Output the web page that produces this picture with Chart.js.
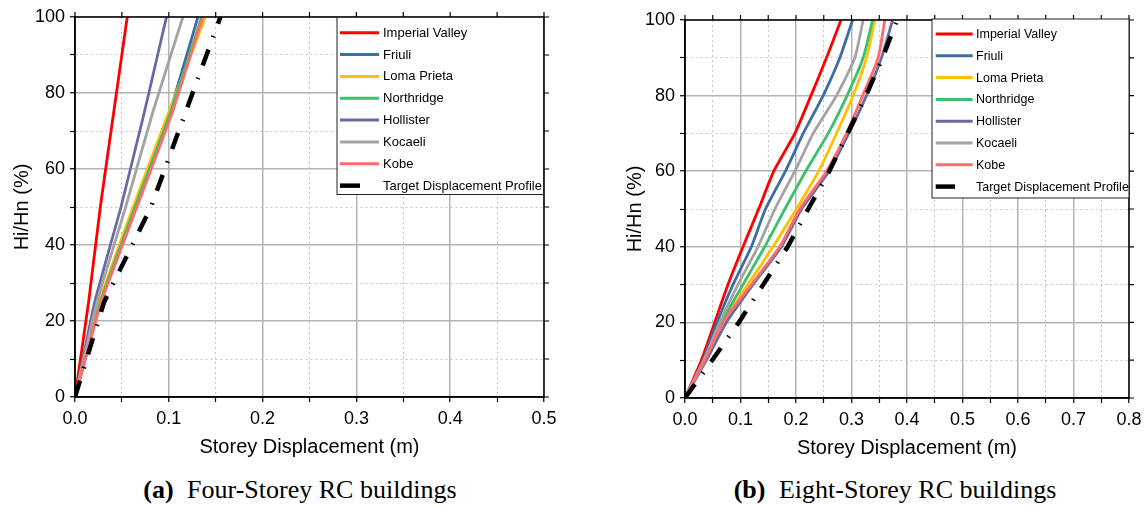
<!DOCTYPE html>
<html lang="en">
<head>
<meta charset="UTF-8">
<title>Storey displacement profiles</title>
<style>
  body { margin: 0; background: #fff; width: 1148px; height: 507px; position: relative; overflow: hidden; }
  canvas { position: absolute; top: 0; }
  #chartA { left: 0; }
  #chartB { left: 600px; }
  .caption {
    position: absolute; top: 475px; line-height: 30px;
    font-family: "Liberation Serif", "Times New Roman", serif; font-size: 26px; color: #000;
    white-space: nowrap; transform: translateX(-50%);
  }
  .caption b { margin-right: 7px; }
</style>
</head>
<body>
<canvas id="chartA" width="574" height="459"></canvas>
<canvas id="chartB" width="548" height="460"></canvas>
<div class="caption" style="left:300px"><b>(a)</b> Four-Storey RC buildings</div>
<div class="caption" style="left:895px"><b>(b)</b> Eight-Storey RC buildings</div>

<script src="https://cdn.jsdelivr.net/npm/chart.js"></script>
<script>
const seriesNames = ['Imperial Valley', 'Friuli', 'Loma Prieta', 'Northridge', 'Hollister', 'Kocaeli', 'Kobe', 'Target Displacement Profile'];

// (a) four-storey: Hi/Hn (%) at floor levels and storey displacement (m)
const heightsA    = [0, 25, 50, 75, 100];
const imperialA   = [0, 0.0145, 0.027, 0.0413, 0.0557];
const friuliA     = [0, 0.027, 0.063, 0.101, 0.131];
const lomaA       = [0, 0.026, 0.062, 0.100, 0.139];
const northridgeA = [0, 0.027, 0.064, 0.102, 0.135];
const hollisterA  = [0, 0.021, 0.049, 0.074, 0.0975];
const kocaeliA    = [0, 0.0234, 0.054, 0.083, 0.115];
const kobeA       = [0, 0.028, 0.066, 0.104, 0.136];
const targetA     = [0, 0.031, 0.081, 0.118, 0.155];

// (b) eight-storey: Hi/Hn (%) read every 10 % and storey displacement (m)
const heightsB    = [0, 10, 20, 30, 40, 50, 60, 70, 80, 90, 100];
const imperialB   = [0, 0.0295, 0.0535, 0.0775, 0.1045, 0.1328, 0.160, 0.198, 0.227, 0.255, 0.281];
const friuliB     = [0, 0.0324, 0.0577, 0.0865, 0.1196, 0.145, 0.181, 0.213, 0.249, 0.279, 0.302];
const lomaB       = [0, 0.036, 0.0685, 0.1135, 0.1586, 0.2007, 0.241, 0.273, 0.303, 0.327, 0.342];
const northridgeB = [0, 0.034, 0.0655, 0.1045, 0.1436, 0.180, 0.2175, 0.258, 0.292, 0.321, 0.338];
const hollisterB  = [0, 0.0385, 0.0745, 0.1225, 0.1737, 0.210, 0.2595, 0.295, 0.327, 0.354, 0.374];
const kocaeliB    = [0, 0.034, 0.0625, 0.0955, 0.1315, 0.162, 0.198, 0.231, 0.273, 0.306, 0.321];
const kobeB       = [0, 0.036, 0.0685, 0.1196, 0.1706, 0.2067, 0.255, 0.291, 0.320, 0.348, 0.360];
const targetB     = [0, 0.049, 0.097, 0.141, 0.185, 0.222, 0.260, 0.293, 0.326, 0.356, 0.382];

const colors = ['#ff0000', '#3a6ea5', '#ffc000', '#3dbf6e', '#6a6aa2', '#a3a3a3', '#ff6b6b', '#000000'];
const sans = '"Liberation Sans", Arial, sans-serif';

const isMajor = (v, step) => Math.abs(Math.round(v / step) * step - v) < 1e-9;

function buildDatasets(series, heights, tension) {
    return series.map((xs, i) => {
        const target = i === series.length - 1;
        return {
            label: seriesNames[i],
            data: xs.map((x, k) => ({ x: x, y: heights[k] })),
            borderColor: colors[i],
            borderWidth: target ? 4.5 : 2.8,
            borderDash: target ? [17, 13, 1.5, 13] : [],
            tension: target ? 0 : tension,
            pointRadius: 0,
            order: -i
        };
    });
}

// black frame with outward ticks on top/right, like the bottom/left axes
const framePlugin = {
    id: 'frame',
    afterDatasetsDraw(chart) {
        const { ctx, chartArea: a, scales } = chart;
        ctx.save();
        ctx.strokeStyle = '#000';
        ctx.lineWidth = 1.5;
        ctx.strokeRect(a.left, a.top, a.right - a.left, a.bottom - a.top);
        ctx.lineWidth = 1.2;
        ctx.beginPath();
        scales.x.ticks.forEach(t => {
            const px = scales.x.getPixelForValue(t.value);
            ctx.moveTo(px, a.top); ctx.lineTo(px, a.top - 5);
        });
        scales.y.ticks.forEach(t => {
            const py = scales.y.getPixelForValue(t.value);
            ctx.moveTo(a.right, py); ctx.lineTo(a.right + 5, py);
        });
        ctx.stroke();
        ctx.restore();
    }
};

const boxLegendPlugin = {
    id: 'boxLegend',
    afterDraw(chart, args, o) {
        const ctx = chart.ctx;
        ctx.save();
        ctx.fillStyle = '#fff';
        ctx.fillRect(o.left, o.top, o.right - o.left, o.bottom - o.top);
        ctx.strokeStyle = '#222';
        ctx.lineWidth = 1;
        ctx.strokeRect(o.left, o.top, o.right - o.left, o.bottom - o.top);
        ctx.font = o.font + 'px ' + sans;
        ctx.textBaseline = 'middle';
        chart.data.datasets.forEach((ds, i) => {
            const y = o.row0 + i * o.rowGap;
            const last = i === chart.data.datasets.length - 1;
            ctx.beginPath();
            ctx.strokeStyle = ds.borderColor;
            ctx.lineWidth = last ? 4.5 : 3;
            ctx.moveTo(o.x0, y);
            ctx.lineTo(last ? o.short : o.x1, y);
            ctx.stroke();
            ctx.fillStyle = '#000';
            ctx.fillText(ds.label, o.xt, y + 0.5);
        });
        ctx.restore();
    }
};

function makeChart(id, series, heights, p) {
    return new Chart(document.getElementById(id), {
        type: 'line',
        data: { datasets: buildDatasets(series, heights, p.tension) },
        plugins: [framePlugin, boxLegendPlugin],
        options: {
            responsive: false,
            animation: false,
            devicePixelRatio: 1,
            layout: { padding: p.padding },
            plugins: {
                legend: { display: false },
                tooltip: { enabled: false },
                boxLegend: p.legend
            },
            scales: {
                x: {
                    type: 'linear', min: 0, max: p.xMax,
                    afterFit: s => { s.height = 62; },
                    ticks: {
                        stepSize: 0.05, autoSkip: false, maxRotation: 0, padding: 6,
                        color: '#000', font: { family: sans, size: 18 },
                        callback: v => isMajor(v, 0.1) ? v.toFixed(1) : ''
                    },
                    grid: {
                        color: c => isMajor(c.tick.value, 0.1) ? '#b4b4b4' : '#c4c4c4',
                        lineWidth: c => isMajor(c.tick.value, 0.1) ? 1.5 : 1,
                        tickColor: '#000', tickLength: 5, tickWidth: 1.2
                    },
                    border: {
                        color: '#000', width: 1.5,
                        dash: c => (c.tick && !isMajor(c.tick.value, 0.1)) ? [2, 3] : []
                    },
                    title: {
                        display: true, text: 'Storey Displacement (m)', color: '#000',
                        font: { family: sans, size: 20 }, padding: { top: 0, bottom: 0 }
                    }
                },
                y: {
                    type: 'linear', min: 0, max: 100,
                    afterFit: s => { s.width = p.yAxisWidth; },
                    ticks: {
                        stepSize: 10, autoSkip: false, padding: 5,
                        color: '#000', font: { family: sans, size: 18 },
                        callback: v => v % 20 === 0 ? v : ''
                    },
                    grid: {
                        color: c => c.tick.value % 20 === 0 ? '#b4b4b4' : '#c4c4c4',
                        lineWidth: c => c.tick.value % 20 === 0 ? 1.5 : 1,
                        tickColor: '#000', tickLength: 5, tickWidth: 1.2
                    },
                    border: {
                        color: '#000', width: 1.5,
                        dash: c => (c.tick && c.tick.value % 20 !== 0) ? [2, 3] : []
                    },
                    title: {
                        display: true, text: 'Hi/Hn (%)', color: '#000',
                        font: { family: sans, size: 20 }, padding: { top: p.yTitlePad, bottom: 0 }
                    }
                }
            }
        }
    });
}

makeChart('chartA',
    [imperialA, friuliA, lomaA, northridgeA, hollisterA, kocaeliA, kobeA, targetA], heightsA,
    {
        xMax: 0.5, yAxisWidth: 75, yTitlePad: 10, tension: 0.1,
        padding: { top: 17, right: 30, left: 0, bottom: 0 },
        legend: { left: 337, top: 17.3, right: 543.5, bottom: 194.5, row0: 32.7, rowGap: 21.85,
                  x0: 340, x1: 379, short: 360, xt: 383, font: 13 }
    });

makeChart('chartB',
    [imperialB, friuliB, lomaB, northridgeB, hollisterB, kocaeliB, kobeB, targetB], heightsB,
    {
        xMax: 0.8, yAxisWidth: 85, yTitlePad: 23, tension: 0.2,
        padding: { top: 20, right: 19, left: 0, bottom: 0 },
        legend: { left: 332, top: 19, right: 529, bottom: 198, row0: 34, rowGap: 21.8,
                  x0: 335.7, x1: 372.7, short: 355, xt: 376, font: 12.5 }
    });
</script>
</body>
</html>
